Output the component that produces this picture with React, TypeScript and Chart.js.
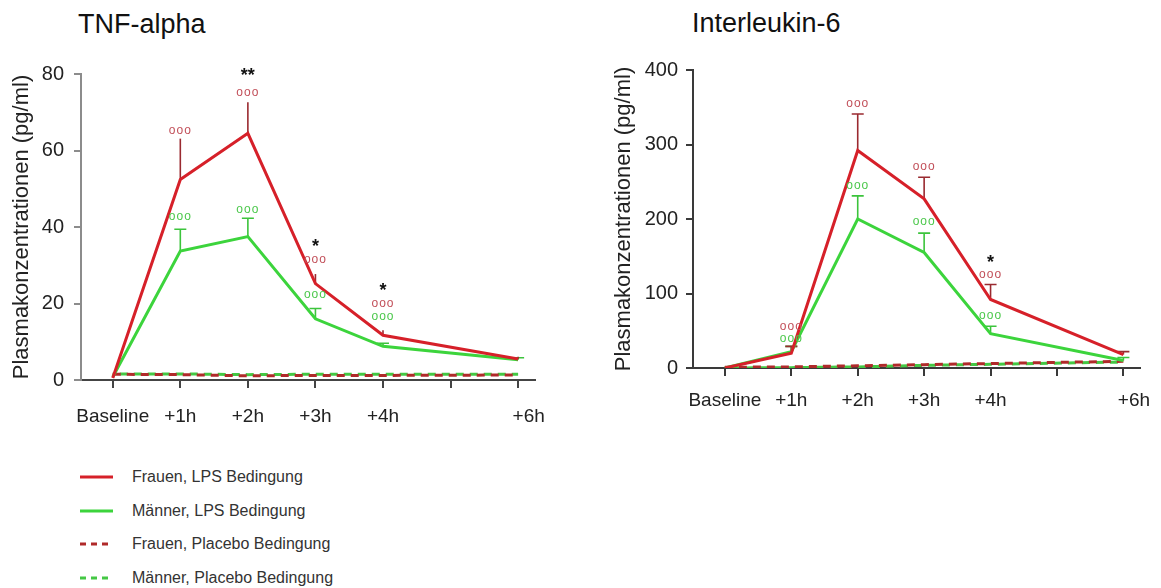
import React, { useEffect, useRef } from 'react';
import { Chart, registerables } from 'chart.js';

Chart.register(...registerables);

const FONT = '"Liberation Sans", Arial, Helvetica, sans-serif';

// ---- shared categories ----
const timepoints = [0, 1, 2, 3, 4, 6];
const xTickValues = [0, 1, 2, 3, 4, 5, 6];
const xTickLabels = ['Baseline', '+1h', '+2h', '+3h', '+4h', '', '    +6h'];
const yAxisTitle = 'Plasmakonzentrationen (pg/ml)';

// ---- TNF-alpha ----
const tnfFrauenLPS = [0.5, 52.4, 64.5, 25.2, 11.7, 5.5];
const tnfFrauenLPSErr = [0, 10.7, 8.1, 2.5, 1.3, 0.6];
const tnfMaennerLPS = [0.8, 33.7, 37.5, 16.0, 8.8, 5.3];
const tnfMaennerLPSErr = [0, 5.7, 4.8, 2.7, 0.8, 0.5];
const tnfFrauenPlacebo = [1.5, 1.4, 1.1, 1.2, 1.2, 1.3];
const tnfMaennerPlacebo = [1.6, 1.6, 1.4, 1.5, 1.5, 1.5];
const tnfFrauenSigX = [1, 2, 3, 4];
const tnfFrauenSigY = [65.1, 75.2, 31.4, 20.0];
const tnfMaennerSigX = [1, 2, 3, 4];
const tnfMaennerSigY = [42.7, 44.5, 22.2, 16.5];
const tnfGroupSigX = [2, 3, 4];
const tnfGroupSigY = [80.4, 35.9, 24.2];
const tnfGroupSigLabels = ['**', '*', '*'];

// ---- Interleukin-6 ----
const il6FrauenLPS = [0, 20, 292, 227, 92, 18];
const il6FrauenLPSErr = [0, 9, 49, 29, 20, 4];
const il6MaennerLPS = [0, 22, 200, 155, 46, 10];
const il6MaennerLPSErr = [0, 7, 31, 26, 10, 4];
const il6FrauenPlacebo = [1, 1.5, 3, 4.5, 6, 9];
const il6MaennerPlacebo = [0, 0.5, 1.5, 3.5, 5, 8];
const il6FrauenSigX = [1, 2, 3, 4];
const il6FrauenSigY = [56, 355, 270, 125];
const il6MaennerSigX = [1, 2, 3, 4];
const il6MaennerSigY = [40, 245, 196, 70];
const il6GroupSigX = [4];
const il6GroupSigY = [146];
const il6GroupSigLabels = ['*'];

// ---- legend ----
const legendLabels = [
  'Frauen, LPS Bedingung',
  'Männer, LPS Bedingung',
  'Frauen, Placebo Bedingung',
  'Männer, Placebo Bedingung',
];

const RED = '#d62029';
const GREEN = '#3cd43c';
const RED_ERR = '#9a2a30';
const GREEN_ERR = '#3cc43c';
const RED_SIG = '#c2505a';
const GREEN_SIG = '#4cc84c';
const RED_DASH = '#b02a2a';
const GREEN_DASH = '#44c844';

type Spec = {
  left: number;
  w: number;
  h: number;
  padRight: number;
  padTop: number;
  yWidth: number;
  xHeight: number;
  xMin: number;
  xMax: number;
  yMax: number;
  yStep: number;
  xLabelPad: number;
  yLabelPad: number;
  titlePad: number;
  yAxisColor: string;
  xAxisColor: string;
  redCap: number;
  greenCap: number;
  frauen: number[];
  frauenErr: number[];
  maenner: number[];
  maennerErr: number[];
  frauenPl: number[];
  maennerPl: number[];
  fSigX: number[];
  fSigY: number[];
  mSigX: number[];
  mSigY: number[];
  gSigX: number[];
  gSigY: number[];
  gSigL: string[];
};

function pts(vals: number[]) {
  return vals.map((v, i) => ({ x: timepoints[i], y: v }));
}

function buildConfig(s: Spec): any {
  const errPlugin = {
    id: 'errbars',
    beforeDatasetsDraw(chart: any) {
      const { ctx } = chart;
      const x = chart.scales.x;
      const y = chart.scales.y;
      const series = [
        { v: s.maenner, e: s.maennerErr, c: GREEN_ERR, cap: s.greenCap },
        { v: s.frauen, e: s.frauenErr, c: RED_ERR, cap: s.redCap },
      ];
      ctx.save();
      for (const se of series) {
        ctx.strokeStyle = se.c;
        ctx.lineWidth = 1.6;
        se.v.forEach((val, i) => {
          const e = se.e[i];
          if (!e) return;
          const px = x.getPixelForValue(timepoints[i]);
          const y0 = y.getPixelForValue(val);
          const y1 = y.getPixelForValue(val + e);
          ctx.beginPath();
          ctx.moveTo(px, y0);
          ctx.lineTo(px, y1);
          if (se.cap > 0) {
            ctx.moveTo(px - se.cap, y1);
            ctx.lineTo(px + se.cap, y1);
          }
          ctx.stroke();
        });
      }
      ctx.restore();
    },
  };
  const sigPlugin = {
    id: 'sig',
    afterDatasetsDraw(chart: any) {
      const { ctx } = chart;
      const x = chart.scales.x;
      const y = chart.scales.y;
      ctx.save();
      ctx.textAlign = 'center';
      ctx.textBaseline = 'middle';
      ctx.font = `12px ${FONT}`;
      try { (ctx as any).letterSpacing = '1px'; } catch (e) {}
      ctx.fillStyle = RED_SIG;
      s.fSigX.forEach((xv, i) => ctx.fillText('ooo', x.getPixelForValue(xv), y.getPixelForValue(s.fSigY[i])));
      ctx.fillStyle = GREEN_SIG;
      s.mSigX.forEach((xv, i) => ctx.fillText('ooo', x.getPixelForValue(xv), y.getPixelForValue(s.mSigY[i])));
      try { (ctx as any).letterSpacing = '0px'; } catch (e) {}
      ctx.fillStyle = '#111';
      ctx.font = `bold 18px ${FONT}`;
      s.gSigX.forEach((xv, i) => ctx.fillText(s.gSigL[i], x.getPixelForValue(xv), y.getPixelForValue(s.gSigY[i]) + 4));
      ctx.restore();
    },
  };

  return {
    type: 'line',
    data: {
      datasets: [
        { label: legendLabels[0], data: pts(s.frauen), borderColor: RED, borderWidth: 3, pointRadius: 0, tension: 0 },
        { label: legendLabels[1], data: pts(s.maenner), borderColor: GREEN, borderWidth: 3, pointRadius: 0, tension: 0 },
        { label: legendLabels[2], data: pts(s.frauenPl), borderColor: RED_DASH, borderWidth: 3, borderDash: [8, 6], pointRadius: 0, tension: 0 },
        { label: legendLabels[3], data: pts(s.maennerPl), borderColor: GREEN_DASH, borderWidth: 3, borderDash: [8, 6], borderDashOffset: 7, pointRadius: 0, tension: 0 },
      ],
    },
    options: {
      responsive: false,
      animation: false,
      devicePixelRatio: 1,
      layout: { padding: { left: 0, right: s.padRight, top: s.padTop, bottom: 0 } },
      plugins: { legend: { display: false }, tooltip: { enabled: false }, title: { display: false } },
      scales: {
        x: {
          type: 'linear',
          min: s.xMin,
          max: s.xMax,
          afterBuildTicks: (sc: any) => { sc.ticks = xTickValues.map((v) => ({ value: v })); },
          afterFit: (sc: any) => { sc.height = s.xHeight; },
          ticks: {
            autoSkip: false,
            maxRotation: 0,
            padding: s.xLabelPad,
            color: '#222',
            font: { family: FONT, size: 19 },
            callback: (v: any) => xTickLabels[xTickValues.indexOf(v)] ?? '',
          },
          grid: { drawOnChartArea: false, drawTicks: true, tickLength: 8, color: s.xAxisColor, lineWidth: 2 },
          border: { display: true, color: s.xAxisColor, width: 2 },
        },
        y: {
          type: 'linear',
          min: 0,
          max: s.yMax,
          afterFit: (sc: any) => { sc.width = s.yWidth; },
          ticks: { stepSize: s.yStep, padding: s.yLabelPad, color: '#222', font: { family: FONT, size: 20 } },
          grid: { drawOnChartArea: false, drawTicks: true, tickLength: 7, color: s.yAxisColor, lineWidth: 2 },
          border: { display: true, color: s.yAxisColor, width: 2 },
          title: {
            display: true,
            text: yAxisTitle,
            color: '#222',
            font: { family: FONT, size: 22 },
            padding: { top: s.titlePad, bottom: 0 },
          },
        },
      },
    },
    plugins: [errPlugin, sigPlugin],
  };
}

const tnfSpec: Spec = {
  left: 0, w: 575, h: 440, padRight: 40, padTop: 74, yWidth: 81, xHeight: 60,
  xMin: -0.47, xMax: 6.25, yMax: 80, yStep: 20, xLabelPad: 17, yLabelPad: 10, titlePad: 9,
  yAxisColor: '#8c8c8c', xAxisColor: '#444', redCap: 0, greenCap: 6,
  frauen: tnfFrauenLPS, frauenErr: tnfFrauenLPSErr, maenner: tnfMaennerLPS, maennerErr: tnfMaennerLPSErr,
  frauenPl: tnfFrauenPlacebo, maennerPl: tnfMaennerPlacebo,
  fSigX: tnfFrauenSigX, fSigY: tnfFrauenSigY, mSigX: tnfMaennerSigX, mSigY: tnfMaennerSigY,
  gSigX: tnfGroupSigX, gSigY: tnfGroupSigY, gSigL: tnfGroupSigLabels,
};

const il6Spec: Spec = {
  left: 600, w: 575, h: 440, padRight: 35, padTop: 70, yWidth: 93, xHeight: 72,
  xMin: -0.48, xMax: 6.25, yMax: 400, yStep: 100, xLabelPad: 13, yLabelPad: 8, titlePad: 11,
  yAxisColor: '#3a3a3a', xAxisColor: '#3a3a3a', redCap: 6, greenCap: 6,
  frauen: il6FrauenLPS, frauenErr: il6FrauenLPSErr, maenner: il6MaennerLPS, maennerErr: il6MaennerLPSErr,
  frauenPl: il6FrauenPlacebo, maennerPl: il6MaennerPlacebo,
  fSigX: il6FrauenSigX, fSigY: il6FrauenSigY, mSigX: il6MaennerSigX, mSigY: il6MaennerSigY,
  gSigX: il6GroupSigX, gSigY: il6GroupSigY, gSigL: il6GroupSigLabels,
};

function LineChart({ spec }: { spec: Spec }) {
  const ref = useRef<HTMLCanvasElement>(null);
  useEffect(() => {
    const chart = new Chart(ref.current as HTMLCanvasElement, buildConfig(spec));
    return () => chart.destroy();
  }, [spec]);
  return (
    <canvas
      ref={ref}
      width={spec.w}
      height={spec.h}
      style={{ position: 'absolute', left: spec.left, top: 0, width: spec.w, height: spec.h }}
    />
  );
}

const legendColors = [RED, GREEN, RED_DASH, GREEN_DASH];
const legendDashed = [false, false, true, true];
const legendRowY = [477, 510.5, 544, 577.5];

export default function App() {
  return (
    <div style={{ position: 'absolute', left: 0, top: 0, width: 1161, height: 588, background: '#fff', overflow: 'hidden', fontFamily: FONT }}>
      <div style={{ position: 'absolute', left: 78, top: 11, fontSize: 27, lineHeight: '27px', color: '#111', whiteSpace: 'nowrap' }}>TNF-alpha</div>
      <div style={{ position: 'absolute', left: 692, top: 10, fontSize: 27, lineHeight: '27px', color: '#111', whiteSpace: 'nowrap' }}>Interleukin-6</div>
      <LineChart spec={tnfSpec} />
      <LineChart spec={il6Spec} />
      {legendLabels.map((lab, i) => (
        <div key={lab} style={{ position: 'absolute', left: 80, top: legendRowY[i] - 10, height: 20, display: 'flex', alignItems: 'center', whiteSpace: 'nowrap' }}>
          <svg width={33} height={6} style={{ display: 'block' }}>
            <line x1={0} y1={3} x2={33} y2={3} stroke={legendColors[i]} strokeWidth={3} strokeDasharray={legendDashed[i] ? '6 5' : undefined} />
          </svg>
          <span style={{ marginLeft: 19, fontSize: 16, color: '#333' }}>{lab}</span>
        </div>
      ))}
    </div>
  );
}
